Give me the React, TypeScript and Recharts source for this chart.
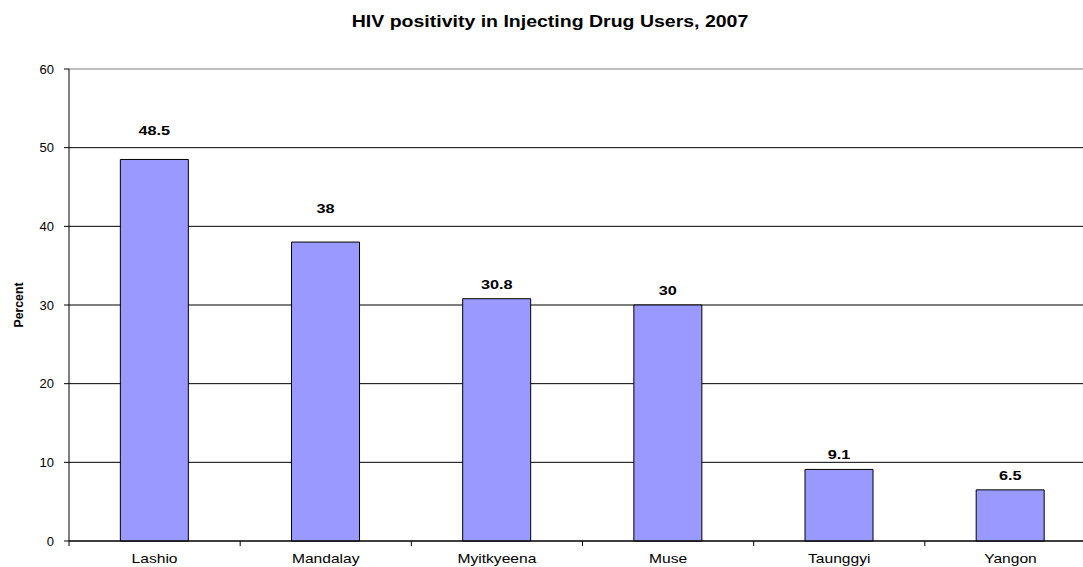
import React from 'react';
import { BarChart, Bar, XAxis, YAxis, CartesianGrid, LabelList } from 'recharts';

const categories = ['Lashio', 'Mandalay', 'Myitkyeena', 'Muse', 'Taunggyi', 'Yangon'];
const positivity = [48.5, 38, 30.8, 30, 9.1, 6.5];
const yTicks = [0, 10, 20, 30, 40, 50, 60];
const title = 'HIV positivity in Injecting Drug Users, 2007';
const yTitle = 'Percent';

const data = categories.map((name, i) => ({ name, value: positivity[i] }));

const W = 1083;
const H = 567;
// the plot runs a little past the right edge of the frame
const CHART_W = 1096;
const TOP = 69;
const BOTTOM = 26;
const YAXIS_W = 69;
const BAND = (CHART_W - YAXIS_W) / categories.length;
const FONT = '"Liberation Sans", Arial, sans-serif';

const XTick = (props: any) => {
  const { x, y, payload } = props;
  const left = x - BAND / 2;
  return (
    <g>
      <line x1={left} y1={y} x2={left} y2={y + 5} stroke="#000" strokeWidth={1} />
      <text
        transform={`translate(${x},${y + 22}) scale(1.2,1)`}
        textAnchor="middle"
        fontFamily={FONT}
        fontSize={13}
        fill="#000"
      >
        {payload.value}
      </text>
    </g>
  );
};

// Value above each bar; lifted above a gridline when it would sit on one
const ValueLabel = (props: any) => {
  const { x, y, width, height, value } = props;
  const base = y + height;
  const ppu = height / value;
  let baseline = y - 10;
  for (const t of yTicks) {
    const gy = base - t * ppu;
    if (t > 0 && gy >= baseline - 12 && gy <= baseline + 2) {
      baseline = gy - 13;
    }
  }
  return (
    <text
      transform={`translate(${x + width / 2},${baseline}) scale(1.25,1)`}
      textAnchor="middle"
      fontFamily={FONT}
      fontWeight="bold"
      fontSize={13}
      fill="#000"
    >
      {value}
    </text>
  );
};

const GridLine = (props: any) => {
  const { x1, y1, x2, y2 } = props;
  const isTop = Math.abs(y1 - TOP) < 1;
  return (
    <line x1={x1} y1={y1} x2={x2} y2={y2} stroke={isTop ? '#808080' : '#000'} strokeWidth={1} />
  );
};

export default function App() {
  return (
    <div
      style={{
        position: 'absolute',
        left: 0,
        top: 0,
        width: W,
        height: H,
        background: '#fff',
        overflow: 'hidden',
      }}
    >
      <svg width={W} height={40} style={{ position: 'absolute', left: 0, top: 0 }}>
        <text
          transform="translate(550,27) scale(1.22,1)"
          textAnchor="middle"
          fontFamily={FONT}
          fontWeight="bold"
          fontSize={16}
          fill="#000"
        >
          {title}
        </text>
      </svg>
      <BarChart
        width={CHART_W}
        height={H}
        data={data}
        margin={{ top: TOP, right: 0, bottom: 0, left: 0 }}
        barCategoryGap="30%"
        style={{ position: 'absolute', left: 0, top: 0 }}
      >
        <CartesianGrid vertical={false} horizontal={GridLine as any} />
        <XAxis
          dataKey="name"
          axisLine={{ stroke: '#000' }}
          tickLine={false}
          tickSize={0}
          tickMargin={0}
          tick={<XTick />}
          interval={0}
          height={BOTTOM}
        />
        <YAxis
          domain={[0, 60]}
          ticks={yTicks}
          width={YAXIS_W}
          axisLine={{ stroke: '#000' }}
          tickLine={{ stroke: '#000' }}
          tickSize={5}
          tickMargin={10}
          tick={{ fill: '#000', fontSize: 13, fontFamily: FONT }}
          label={{
            content: () => (
              <text
                transform="translate(23,305) rotate(-90)"
                textAnchor="middle"
                fontFamily={FONT}
                fontWeight="bold"
                fontSize={13}
                textLength={45}
                lengthAdjust="spacingAndGlyphs"
                fill="#000"
              >
                {yTitle}
              </text>
            ),
          }}
        />
        <Bar dataKey="value" fill="#9999FF" stroke="#000" strokeWidth={1} isAnimationActive={false}>
          <LabelList dataKey="value" content={<ValueLabel />} />
        </Bar>
      </BarChart>
    </div>
  );
}
